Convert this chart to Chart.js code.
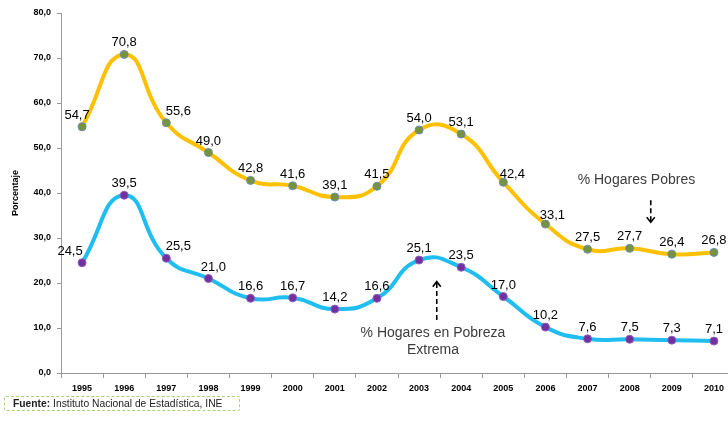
<!DOCTYPE html>
<html>
<head>
<meta charset="utf-8">
<script src="https://cdn.jsdelivr.net/npm/chart.js@4.4.0/dist/chart.umd.min.js"></script>
<style>
  html, body { margin: 0; padding: 0; background: #fff; overflow: hidden; width: 728px; height: 423px; }
  #wrap { position: absolute; left: 0; top: 0; width: 740px; height: 423px; }
  #src { position: absolute; left: 4px; top: 396px; width: 226px; height: 13px; border: 1px dashed #a9cf7a; border-radius: 2px;
         font-family: 'Liberation Sans', Arial, sans-serif; font-size: 10.3px; line-height: 13px; color: #222; padding-left: 8px; box-sizing: content-box; white-space: nowrap; }
  #src b { font-weight: bold; }
</style>
</head>
<body>
<div id="wrap"><canvas id="c" width="740" height="423"></canvas></div>
<div id="src"><b>Fuente:</b> Instituto Nacional de Estadística, INE</div>
<script>
const years = ['1995','1996','1997','1998','1999','2000','2001','2002','2003','2004','2005','2006','2007','2008','2009','2010'];
const hogaresPobres = [54.7, 70.8, 55.6, 49.0, 42.8, 41.6, 39.1, 41.5, 54.0, 53.1, 42.4, 33.1, 27.5, 27.7, 26.4, 26.8];
const pobrezaExtrema = [24.5, 39.5, 25.5, 21.0, 16.6, 16.7, 14.2, 16.6, 25.1, 23.5, 17.0, 10.2, 7.6, 7.5, 7.3, 7.1];
const yTicks = [0, 10, 20, 30, 40, 50, 60, 70, 80];

const FONT = "'Liberation Sans', Arial, sans-serif";
const fmt = v => v.toFixed(1).replace('.', ',');

const labelShift = [
  {0: [-5, 0], 2: [12, 0], 10: [9, 4], 11: [7, 3]},
  {0: [-12, 0], 2: [12, 0], 3: [5, 0]}
];

const dataLabels = {
  id: 'dataLabels',
  afterDatasetsDraw(chart) {
    const ctx = chart.ctx;
    ctx.save();
    ctx.font = '13px ' + FONT;
    ctx.fillStyle = '#000';
    ctx.textAlign = 'center';
    ctx.textBaseline = 'alphabetic';
    chart.data.datasets.forEach((ds, di) => {
      const meta = chart.getDatasetMeta(di);
      meta.data.forEach((pt, i) => {
        const s = labelShift[di][i] || [0, 0];
        ctx.fillText(fmt(ds.data[i]), pt.x + s[0], pt.y - 8 + s[1]);
      });
    });
    ctx.restore();
  }
};

function arrow(ctx, x, y1, y2) {
  ctx.save();
  ctx.strokeStyle = '#000';
  ctx.lineWidth = 1.6;
  ctx.setLineDash([5, 3]);
  ctx.beginPath();
  ctx.moveTo(x, y1);
  ctx.lineTo(x, y2);
  ctx.stroke();
  ctx.setLineDash([]);
  const d = y2 > y1 ? -1 : 1;
  ctx.beginPath();
  ctx.moveTo(x - 4, y2 + d * 5);
  ctx.lineTo(x, y2);
  ctx.lineTo(x + 4, y2 + d * 5);
  ctx.stroke();
  ctx.restore();
}

const annotations = {
  id: 'annotations',
  afterDraw(chart) {
    const ctx = chart.ctx;
    const xs = chart.scales.x, ys = chart.scales.y;
    ctx.save();
    ctx.font = '14px ' + FONT;
    ctx.fillStyle = '#3c3c3c';
    ctx.textAlign = 'center';
    ctx.textBaseline = 'middle';
    ctx.fillText('% Hogares Pobres', xs.getPixelForValue(13.16), ys.getPixelForValue(42.9));
    ctx.fillText('% Hogares en Pobreza', xs.getPixelForValue(8.33), ys.getPixelForValue(8.8));
    ctx.fillText('Extrema', xs.getPixelForValue(8.33), ys.getPixelForValue(5.1));
    ctx.restore();
    arrow(ctx, xs.getPixelForValue(13.5), ys.getPixelForValue(38.4), ys.getPixelForValue(33.5));
    arrow(ctx, xs.getPixelForValue(8.42), ys.getPixelForValue(11.8), ys.getPixelForValue(20.3));
  }
};

new Chart(document.getElementById('c'), {
  type: 'line',
  data: {
    labels: years,
    datasets: [
      {
        label: '% Hogares Pobres',
        data: hogaresPobres,
        borderColor: '#FFC000',
        borderWidth: 4,
        tension: 0.5,
        pointRadius: 4,
        pointBackgroundColor: '#77933C',
        pointBorderColor: '#6a8db5',
        pointBorderWidth: 1,
        fill: false
      },
      {
        label: '% Hogares en Pobreza Extrema',
        data: pobrezaExtrema,
        borderColor: '#1FBDF0',
        borderWidth: 4,
        tension: 0.5,
        pointRadius: 4,
        pointBackgroundColor: '#7030A0',
        pointBorderColor: '#9060b8',
        pointBorderWidth: 1,
        fill: false
      }
    ]
  },
  options: {
    responsive: false,
    animation: false,
    devicePixelRatio: 1,
    layout: { padding: { top: 13, left: 0, right: 5, bottom: 30 } },
    plugins: { legend: { display: false }, tooltip: { enabled: false } },
    scales: {
      x: {
        type: 'category',
        offset: true,
        grid: { offset: true, drawOnChartArea: false, drawTicks: true, tickLength: 5, color: '#999' },
        border: { display: true, color: '#999', width: 1 },
        ticks: { color: '#000', font: { family: FONT, size: 9, weight: 'bold' }, padding: 5, maxRotation: 0, autoSkip: false },
        afterFit(s) { s.height = 20; }
      },
      y: {
        min: 0, max: 80,
        afterBuildTicks(s) { s.ticks = yTicks.map(v => ({ value: v })); },
        grid: { drawOnChartArea: false, drawTicks: true, tickLength: 4, color: '#999' },
        border: { display: true, color: '#999', width: 1 },
        ticks: { color: '#000', font: { family: FONT, size: 9, weight: 'bold' }, padding: 6, callback: v => fmt(v) },
        title: { display: true, text: 'Porcentaje', color: '#000', font: { family: FONT, size: 9, weight: 'bold' }, padding: { top: 10, bottom: 0 } },
        afterFit(s) { s.width = 61; }
      }
    }
  },
  plugins: [dataLabels, annotations]
});
</script>
</body>
</html>
